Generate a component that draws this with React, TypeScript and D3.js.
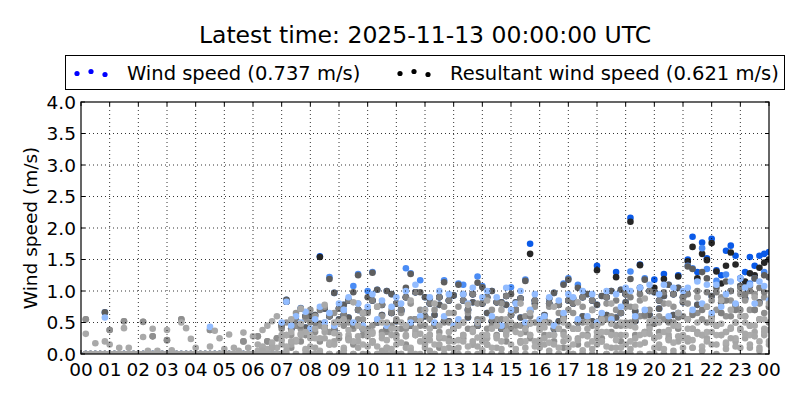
import React from "react";
import * as d3 from "d3";

// ---------- labels ----------
const titleText = "Latest time: 2025-11-13 00:00:00 UTC";
const yLabel = "Wind speed (m/s)";
const legendWind = "Wind speed (0.737 m/s)";
const legendResultant = "Resultant wind speed (0.621 m/s)";
const hourLabels = ["00","01","02","03","04","05","06","07","08","09","10","11","12","13","14","15","16","17","18","19","20","21","22","23","00"];
const yTickValues = [0, 0.5, 1.0, 1.5, 2.0, 2.5, 3.0, 3.5, 4.0];

// ---------- data: 10-minute samples (6 per hour, 00:10 .. 24:00), one row per hour ----------
// latest day
const windDay0 = [
  0,0,0,0,0,0, 0,0,0,0,0,0, 0,0,0,0,0,0, 0,0,0,0,0,0, 0,0,0,0,0,0, 0,0,0,0,0,0, 0,0,0,0,0,0,
  0.83,0.4,0.53,0.45,0.6,0.35,
  0.5,1.55,0.42,0.6,0.38,0.72,
  0.62,0.85,0.45,0.7,0.4,0.68,
  0.85,0.5,0.78,0.4,0.65,0.8,
  0.7,0.9,0.45,0.98,0.55,0.6,
  0.8,0.45,0.9,0.52,0.85,0.4,
  0.5,0.85,0.7,0.95,0.45,0.8,
  0.9,0.52,0.82,0.4,0.92,0.62,
  0.7,0.88,0.45,1.75,0.85,0.5,
  0.52,0.8,0.4,0.78,0.58,0.85,
  0.8,0.5,0.9,0.52,0.85,1.4,
  0.58,0.9,0.5,1.3,0.65,0.95,
  2.16,0.52,1.42,0.62,1.0,1.18,
  0.85,1.27,0.52,0.95,1.25,0.9,
  1.5,1.86,1.3,1.77,1.52,1.83,
  1.33,1.25,1.64,1.72,1.56,1.2,
  1.3,1.54,1.4,1.56,1.59,1.62,
];
const resDay0 = [
  0,0,0,0,0,0, 0,0,0,0,0,0, 0,0,0,0,0,0, 0,0,0,0,0,0, 0,0,0,0,0,0, 0,0,0,0,0,0, 0,0,0,0,0,0,
  0.83,0.4,0.53,0.45,0.6,0.35,
  0.5,1.54,0.42,0.6,0.38,0.72,
  0.62,0.85,0.45,0.7,0.4,0.68,
  0.85,0.5,0.78,0.4,0.65,0.8,
  0.7,0.9,0.45,0.98,0.55,0.6,
  0.8,0.45,0.9,0.52,0.85,0.4,
  0.5,0.85,0.7,0.95,0.45,0.8,
  0.9,0.52,0.82,0.4,0.92,0.62,
  0.7,0.88,0.45,1.59,0.85,0.5,
  0.52,0.8,0.4,0.78,0.58,0.85,
  0.8,0.5,0.9,0.52,0.85,1.33,
  0.58,0.9,0.5,1.22,0.65,0.95,
  2.1,0.52,1.41,0.62,1.0,1.05,
  0.85,1.19,0.52,0.95,1.23,0.9,
  1.47,1.7,1.2,1.59,1.49,1.76,
  1.31,1.12,1.4,1.61,1.42,1.08,
  1.15,1.28,1.25,1.37,1.45,1.5,
];
// one day before
const windDay1 = [
  0,0,0,0,0.66,0,
  0,0,0,0,0,0, 0,0,0,0,0,0, 0,0,0,0,0,0, 0,0,0,0,0,0, 0,0,0,0,0,0,
  0,0,0,0,0,0.45,
  0.86,0.5,0.45,0.73,0.42,0.6,
  0.62,0.48,0.72,1.22,0.97,0.55,
  0.78,0.58,1.08,1.27,0.65,1.0,
  1.3,1.02,0.62,1.0,0.95,0.52,
  0.68,1.36,1.28,0.55,1.17,0.9,
  0.88,0.62,0.78,1.17,0.52,0.93,
  1.12,1.1,0.58,0.82,1.23,1.08,
  0.65,1.0,0.52,0.82,0.78,1.06,
  0.82,0.58,1.18,0.68,0.8,0.52,
  0.62,0.88,0.97,0.52,1.12,1.2,
  0.88,1.1,0.6,0.95,0.52,0.78,
  0.92,0.62,1.0,0.58,1.02,0.82,
  1.31,0.68,1.05,1.2,0.62,0.98,
  0.72,0.92,1.1,0.62,1.05,0.82,
  1.4,1.36,0.78,1.68,1.35,0.92,
  1.16,0.82,1.26,1.0,0.78,1.08,
  0.88,1.12,1.2,0.82,1.3,1.22,
];
const resDay1 = [
  0,0,0,0,0.66,0,
  0,0,0,0,0,0, 0,0,0,0,0,0, 0,0,0,0,0,0, 0,0,0,0,0,0, 0,0,0,0,0,0,
  0,0,0,0,0,0.45,
  0.86,0.5,0.45,0.72,0.42,0.6,
  0.62,0.48,0.72,1.19,0.97,0.55,
  0.78,0.58,0.98,1.25,0.65,0.9,
  1.29,1.02,0.62,1.0,0.95,0.52,
  0.68,1.05,1.27,0.55,0.98,0.9,
  0.88,0.62,0.78,1.14,0.52,0.93,
  1.1,0.95,0.58,0.82,1.13,1.06,
  0.65,1.0,0.52,0.82,0.78,0.95,
  0.82,0.58,1.16,0.68,0.8,0.52,
  0.62,0.88,0.97,0.52,1.1,1.18,
  0.88,1.05,0.6,0.95,0.52,0.78,
  0.92,0.62,1.0,0.58,1.02,0.82,
  1.19,0.68,1.05,1.18,0.62,0.98,
  0.72,0.92,1.1,0.62,1.05,0.82,
  1.39,1.35,0.78,1.3,1.2,0.92,
  1.05,0.82,1.15,1.0,0.78,1.08,
  0.88,1.08,1.2,0.82,1.25,1.22,
];
// two days before
const windDay2 = [
  0,0,0,0,0.58,0,
  0,0,0,0,0,0, 0,0,0,0,0,0, 0,0,0,0,0,0,
  0,0,0.43,0,0,0,
  0,0,0,0,0,0,
  0,0,0,0,0,0.5,
  0.83,0.45,0.6,0.5,0.67,0.4,
  0.55,0.75,0.5,0.65,0.45,0.8,
  0.7,0.9,0.5,0.8,0.45,0.75,
  0.95,0.55,0.85,0.45,0.75,0.9,
  0.8,1.0,0.5,1.1,0.6,0.7,
  0.9,0.5,1.0,0.6,0.95,0.45,
  0.55,0.95,0.8,1.05,0.5,0.9,
  1.0,0.6,0.9,0.45,1.05,0.7,
  0.8,1.0,0.5,0.7,0.95,0.55,
  0.6,0.9,0.45,0.85,0.65,0.95,
  0.9,0.55,1.0,0.6,0.95,0.5,
  0.65,1.0,0.55,0.95,0.75,1.05,
  1.0,0.6,1.05,0.7,1.1,0.55,
  0.95,1.1,0.6,1.05,0.65,1.0,
  1.05,0.7,1.15,0.8,1.1,0.65,
  1.1,0.75,0.95,1.15,0.8,1.2,
  1.05,1.1,0.8,1.15,1.08,0.85,
];
const resDay2 = [
  0,0,0,0,0,0,
  0,0,0,0,0,0, 0,0,0,0,0,0, 0,0,0,0,0,0, 0,0,0,0,0,0, 0,0,0,0,0,0,
  0,0,0,0,0,0.45,
  0.83,0.4,0.53,0.45,0.6,0.35,
  0.5,0.7,0.42,0.6,0.38,0.72,
  0.62,0.85,0.45,0.7,0.4,0.68,
  0.85,0.5,0.78,0.4,0.65,0.8,
  0.7,0.9,0.45,0.98,0.55,0.6,
  0.8,0.45,0.9,0.52,0.85,0.4,
  0.5,0.85,0.7,0.95,0.45,0.8,
  0.9,0.52,0.82,0.4,0.92,0.62,
  0.7,0.88,0.45,0.6,0.85,0.5,
  0.52,0.8,0.4,0.78,0.58,0.85,
  0.8,0.5,0.9,0.52,0.85,0.45,
  0.58,0.9,0.5,0.85,0.65,0.95,
  0.9,0.52,0.95,0.62,1.0,0.48,
  0.85,0.98,0.52,0.95,0.58,0.9,
  0.95,0.62,1.0,0.7,0.98,0.58,
  0.98,0.65,0.85,1.0,0.7,1.05,
  0.95,1.0,0.7,1.05,0.98,0.75,
];
// three days before
const windDay3 = [
  0.55,0,0,0,0,0.38,
  0,0,0.52,0,0,0,
  0.51,0,0.28,0,0,0.22,
  0,0,0.55,0,0,0,
  0,0,0.38,0,0,0,
  0,0,0,0.2,0,0,
  0.28,0.1,0.2,0.12,0.25,0.45,
  0.5,0.3,0.65,0.4,0.55,0.7,
  0.6,0.45,0.75,0.35,0.65,0.5,
  0.7,0.5,0.4,0.8,0.55,0.65,
  0.45,0.75,0.6,0.35,0.7,0.55,
  0.65,0.4,0.8,0.55,0.7,0.45,
  0.55,0.7,0.35,0.75,0.5,0.65,
  0.75,0.5,0.65,0.4,0.8,0.55,
  0.4,0.7,0.55,0.8,0.45,0.65,
  0.7,0.45,0.6,0.5,0.75,0.4,
  0.55,0.75,0.45,0.65,0.35,0.7,
  0.65,0.4,0.75,0.55,0.7,0.5,
  0.5,0.8,0.6,0.7,0.45,0.75,
  0.75,0.55,0.85,0.6,0.7,0.5,
  0.6,0.8,0.5,0.75,0.65,0.85,
  0.8,0.65,0.9,0.55,0.75,0.85,
  0.7,0.9,0.6,0.85,0.75,0.95,
  0.85,0.7,0.95,0.8,0.9,0.75,
];
const resDay3 = [
  0.55,0,0,0,0,0.38,
  0,0,0.52,0,0,0,
  0.51,0,0.28,0,0,0.22,
  0,0,0.55,0,0,0,
  0,0,0.38,0,0,0,
  0,0,0,0.2,0,0,
  0.28,0.1,0.2,0.1,0.25,0.4,
  0.3,0.1,0.45,0.2,0.3,0.5,
  0.35,0.2,0.5,0.15,0.4,0.25,
  0.45,0.25,0.15,0.55,0.3,0.4,
  0.2,0.5,0.35,0.1,0.45,0.3,
  0.4,0.15,0.55,0.3,0.45,0.2,
  0.3,0.45,0.1,0.5,0.25,0.4,
  0.5,0.25,0.4,0.15,0.55,0.3,
  0.15,0.45,0.3,0.55,0.2,0.4,
  0.45,0.2,0.35,0.25,0.5,0.15,
  0.3,0.5,0.2,0.4,0.1,0.45,
  0.4,0.15,0.5,0.3,0.45,0.25,
  0.25,0.55,0.35,0.45,0.2,0.5,
  0.5,0.3,0.6,0.35,0.45,0.25,
  0.35,0.55,0.25,0.5,0.4,0.6,
  0.55,0.4,0.65,0.3,0.5,0.6,
  0.45,0.65,0.35,0.6,0.5,0.7,
  0.6,0.45,0.7,0.55,0.65,0.5,
];
// four days before
const windDay4 = [
  0.32,0,0.17,0,0.2,0.15,
  0,0.1,0.41,0.1,0,0,
  0.27,0.05,0.4,0.05,0,0.38,
  0.06,0,0.5,0.41,0.24,0.1,
  0,0,0.12,0.37,0.25,0.08,
  0.31,0.1,0.05,0.34,0.1,0.28,
  0.15,0.38,0.45,0.52,0.6,0.3,
  0.3,0.55,0.2,0.72,0.35,0.25,
  0.4,0.25,0.78,0.15,0.5,0.3,
  0.55,0.3,0.82,0.2,0.65,0.35,
  0.35,0.75,0.25,0.5,0.4,0.15,
  0.5,0.3,0.85,0.4,0.2,0.7,
  0.3,0.8,0.45,0.25,0.65,0.4,
  0.45,0.2,0.78,0.35,0.5,0.3,
  0.85,0.4,0.25,0.7,0.3,0.5,
  0.35,0.8,0.4,0.65,0.2,0.45,
  0.5,0.3,0.75,0.4,0.55,0.25,
  0.4,0.82,0.3,0.5,0.7,0.35,
  0.55,0.35,0.8,0.3,0.5,0.45,
  0.45,0.75,0.3,0.88,0.4,0.55,
  0.5,0.35,0.8,0.45,0.65,0.3,
  0.55,0.4,0.9,0.3,0.75,0.5,
  0.45,0.85,0.35,0.7,0.5,0.4,
  0.6,0.45,0.9,0.55,0.4,0.8,
];
const resDay4 = [
  0,0,0,0,0,0, 0,0,0,0,0,0, 0,0,0,0,0,0, 0,0,0,0,0,0, 0,0,0,0,0,0, 0,0,0,0,0,0, 0,0,0,0,0,0,
  0,0.15,0,0.3,0.05,0,
  0.1,0,0.35,0,0.2,0,
  0,0.25,0,0.1,0.4,0,
  0.2,0,0.05,0,0.3,0,
  0,0.1,0,0.35,0,0.15,
  0.05,0,0.25,0,0.1,0,
  0,0.3,0,0.15,0,0.2,
  0.25,0,0.1,0,0.35,0,
  0,0.2,0,0.3,0,0.1,
  0.15,0,0.3,0,0.2,0,
  0,0.25,0,0.4,0,0.15,
  0.2,0,0.1,0,0.3,0,
  0,0.15,0,0.35,0,0.25,
  0.1,0,0.3,0,0.2,0,
  0.2,0.1,0.35,0.05,0.25,0.15,
  0,0.3,0.15,0.4,0.2,0.1,
  0.25,0.1,0.35,0.05,0.3,0.15,
];
// five days before
const windDay5 = [
  0,0,0,0,0,0, 0,0,0,0,0,0, 0,0,0,0,0,0, 0,0,0,0,0,0, 0,0,0,0,0,0, 0,0,0,0,0,0,
  0.05,0.12,0.08,0.18,0.1,0.22,
  0.12,0.35,0.22,0.48,0.08,0.3,
  0.25,0.05,0.42,0.18,0.33,0.52,
  0.1,0.38,0.2,0.45,0.15,0.28,
  0.32,0.12,0.5,0.22,0.08,0.4,
  0.18,0.45,0.1,0.3,0.52,0.25,
  0.4,0.15,0.28,0.08,0.35,0.2,
  0.22,0.5,0.12,0.38,0.26,0.06,
  0.3,0.1,0.45,0.2,0.55,0.15,
  0.08,0.32,0.2,0.48,0.12,0.38,
  0.42,0.18,0.3,0.1,0.5,0.24,
  0.15,0.4,0.06,0.28,0.2,0.45,
  0.35,0.12,0.48,0.22,0.1,0.3,
  0.2,0.42,0.15,0.32,0.52,0.1,
  0.28,0.08,0.38,0.18,0.45,0.25,
  0.4,0.22,0.5,0.12,0.35,0.55,
  0.3,0.48,0.18,0.42,0.25,0.6,
  0.5,0.3,0.45,0.2,0.55,0.38,
];
const resDay5 = [
  0,0,0,0,0,0, 0,0,0,0,0,0, 0,0,0,0,0,0, 0,0,0,0,0,0, 0,0,0,0,0,0, 0,0,0,0,0,0,
  0,0.05,0,0.1,0,0.15,
  0.05,0.2,0,0.32,0,0.12,
  0,0.02,0.25,0,0.15,0.3,
  0.06,0.22,0,0.28,0,0.12,
  0.18,0,0.3,0.1,0,0.25,
  0,0.28,0.05,0,0.32,0.1,
  0.22,0,0.15,0,0.2,0.08,
  0.1,0.3,0,0.2,0.12,0,
  0.15,0,0.28,0.08,0.35,0,
  0,0.18,0.1,0.3,0,0.22,
  0.25,0.05,0.15,0,0.3,0.1,
  0,0.22,0,0.15,0.08,0.28,
  0.2,0,0.3,0.1,0,0.15,
  0.08,0.25,0,0.18,0.32,0,
  0.15,0,0.22,0.05,0.28,0.1,
  0.25,0.1,0.32,0.05,0.2,0.35,
  0.15,0.3,0.08,0.25,0.12,0.38,
  0.32,0.15,0.28,0.1,0.35,0.2,
];

// drawing order (bottom to top) and colours
const layers = [
  { values: windDay0, color: "#0a5ae8" },
  { values: resDay0, color: "#262626" },
  { values: windDay1, color: "#4a8cf5" },
  { values: resDay1, color: "#5e5e5e" },
  { values: windDay3, color: "#959595" },
  { values: resDay3, color: "#8f8f8f" },
  { values: resDay2, color: "#808080" },
  { values: windDay2, color: "#92bcff" },
  { values: windDay4, color: "#a9a9a9" },
  { values: resDay4, color: "#a5a5a5" },
  { values: windDay5, color: "#acacac" },
  { values: resDay5, color: "#a8a8a8" },
];

const FONT = "DejaVu Sans";

export default function App() {
  const left = 81, right = 769, top = 102, bottom = 354;
  const x = d3.scaleLinear().domain([0, 24]).range([left, right]);
  const y = d3.scaleLinear().domain([0, 4]).range([bottom, top]);
  const fmt = d3.format(".1f");
  const hours = d3.range(0, 25);

  return (
    <svg width={800} height={400} style={{ position: "fixed", left: 0, top: 0, background: "#fff" }} fontFamily={FONT}>
      <rect x={0} y={0} width={800} height={400} fill="#fff" />
      <defs>
        <clipPath id="plotClip">
          <rect x={left} y={top} width={right - left} height={bottom - top} />
        </clipPath>
      </defs>

      <text x={425} y={43} fontSize={23.5} textAnchor="middle" fill="#000">{titleText}</text>

      {/* legend */}
      <rect x={65.5} y={55.5} width={719} height={34} fill="#fff" stroke="#000" strokeWidth={1} />
      {[[77, 73.5], [91, 71.5], [105, 74.5]].map(([cx, cy], i) => (
        <circle key={"lb" + i} cx={cx} cy={cy} r={2.6} fill="#0000ff" />
      ))}
      <text x={127} y={79.5} fontSize={19.5} fill="#000">{legendWind}</text>
      {[[400, 73.5], [414, 71.5], [428, 74.5]].map(([cx, cy], i) => (
        <circle key={"lk" + i} cx={cx} cy={cy} r={2.6} fill="#000" />
      ))}
      <text x={450} y={79.5} fontSize={19.5} fill="#000">{legendResultant}</text>

      {/* points */}
      <g clipPath="url(#plotClip)">
        {layers.map((layer, li) =>
          layer.values.map((v, i) => {
            const h = ((i + 1) * 24) / layer.values.length;
            return <circle key={li + "-" + i} cx={x(h)} cy={y(v)} r={3.3} fill={layer.color} />;
          })
        )}
      </g>

      {/* grid */}
      <g stroke="#000" strokeWidth={0.8} strokeDasharray="1,3">
        {hours.slice(1, 24).map((h) => (
          <line key={"gx" + h} x1={x(h)} x2={x(h)} y1={top} y2={bottom} />
        ))}
        {yTickValues.slice(1, -1).map((v) => (
          <line key={"gy" + v} x1={left} x2={right} y1={y(v)} y2={y(v)} />
        ))}
      </g>

      {/* ticks */}
      <g stroke="#000" strokeWidth={1}>
        {hours.map((h) => (
          <g key={"tx" + h}>
            <line x1={x(h)} x2={x(h)} y1={bottom} y2={bottom - 4} />
            <line x1={x(h)} x2={x(h)} y1={top} y2={top + 4} />
          </g>
        ))}
        {yTickValues.map((v) => (
          <g key={"ty" + v}>
            <line x1={left} x2={left + 4} y1={y(v)} y2={y(v)} />
            <line x1={right} x2={right - 4} y1={y(v)} y2={y(v)} />
          </g>
        ))}
      </g>

      <rect x={left} y={top} width={right - left} height={bottom - top} fill="none" stroke="#000" strokeWidth={1.2} />

      {/* tick labels */}
      {hours.map((h) => (
        <text key={"lx" + h} x={x(h)} y={376} fontSize={18.5} textAnchor="middle" fill="#000">{hourLabels[h]}</text>
      ))}
      {yTickValues.map((v) => (
        <text key={"ly" + v} x={76} y={y(v)} dy="0.36em" fontSize={18.5} textAnchor="end" fill="#000">{fmt(v)}</text>
      ))}

      <text transform={`translate(37,${(top + bottom) / 2}) rotate(-90)`} fontSize={18.5} textAnchor="middle" fill="#000">{yLabel}</text>
    </svg>
  );
}
